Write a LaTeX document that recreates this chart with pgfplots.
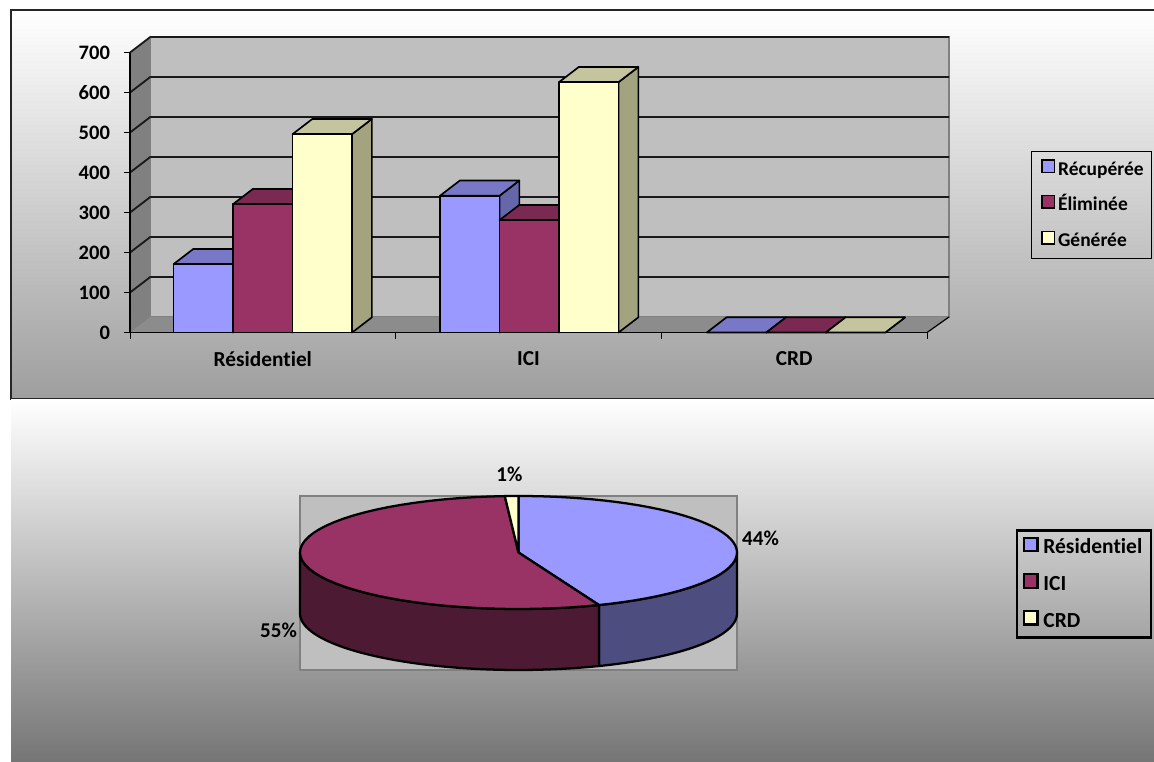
\documentclass[border=0pt]{standalone}
\usepackage{fontspec}
\setmainfont[Ligatures=NoCommon]{Carlito}
\usepackage{pgfplots}
\pgfplotsset{compat=1.18}
\definecolor{cBlue}{HTML}{9999FF}
\definecolor{cBlueT}{HTML}{7878C6}
\definecolor{cBlueS}{HTML}{6666AA}
\definecolor{cCrim}{HTML}{993366}
\definecolor{cCrimT}{HTML}{7A2952}
\definecolor{cCrimS}{HTML}{662244}
\definecolor{cYel}{HTML}{FFFFCC}
\definecolor{cYelT}{HTML}{C4C49E}
\definecolor{cYelS}{HTML}{A3A37F}
\definecolor{cPieB}{HTML}{4D4D7F}
\definecolor{cPieC}{HTML}{4C1A33}
% one 3-D column: #1 category, #2 shift in bars, #3 value, #4 front, #5 top, #6 side
\newcommand\colthree[6]{%
  \pgfmathsetmacro\xa{#1+(#2-0.5)*0.224}%
  \pgfmathsetmacro\xb{#1+(#2+0.5)*0.224}%
  \pgfmathsetmacro\xc{\xa+0.0745}%
  \pgfmathsetmacro\xd{\xb+0.0745}%
  \pgfmathsetmacro\vt{#3+38}%
  \edef\cmd{\noexpand\addplot[forget plot,fill=#6,draw=black,line width=1.25pt,line join=round] coordinates {(\xb,0) (\xd,38) (\xd,\vt) (\xb,#3)} --cycle;
  \noexpand\addplot[forget plot,fill=#5,draw=black,line width=1.25pt,line join=round] coordinates {(\xa,#3) (\xb,#3) (\xd,\vt) (\xc,\vt)} --cycle;
  \noexpand\addplot[forget plot,fill=#4,draw=black,line width=1.25pt,line join=round] coordinates {(\xa,0) (\xb,0) (\xb,#3) (\xa,#3)} --cycle;}%
  \cmd}
\newcommand\wallgrid[1]{%
  \pgfmathsetmacro\vt{#1+39}%
  \edef\cmd{\noexpand\addplot[forget plot,draw=black!90,line width=1.35pt] coordinates {(-0.5,#1) (-0.4233,\vt) (2.583,\vt)};}\cmd}
% pie slice between two shares (per cent, clockwise from the top)
\newcommand\piearc[2]{%
  \gdef\arcf{}\gdef\arcb{}%
  \pgfplotsforeachungrouped \i in {0,...,48}{%
    \pgfmathsetmacro\t{(#1+(#2-#1)*\i/48)}%
    \pgfmathsetmacro\px{218.5*sin(\t)}%
    \pgfmathsetmacro\py{56.5*cos(\t)}%
    \pgfmathsetmacro\pz{\py-61}%
    \xdef\arcf{\arcf (\px,\py)}%
    \xdef\arcb{(\px,\pz) \arcb}}}
\newcommand\pietop[3]{%
  \pgfmathsetmacro\aa{#1*3.6}\pgfmathsetmacro\bb{#2*3.6}%
  \piearc{\aa}{\bb}%
  \edef\cmd{\noexpand\addplot[forget plot,fill=#3,draw=black,line width=1.7pt,line join=round] coordinates {(0,0) \arcf} --cycle;}\cmd}
\newcommand\pieside[3]{%
  \piearc{#1}{#2}%
  \edef\cmd{\noexpand\addplot[forget plot,fill=#3,draw=black,line width=1.7pt,line join=round] coordinates {\arcf\space \arcb} --cycle;}\cmd}
\begin{document}
\begin{tikzpicture}
\begin{scope}[x=0.75pt,y=-0.75pt]
\shade[top color=white,bottom color=black!38] (11,10) rectangle (1154,399);
\draw[black!85,line width=1.3pt] (1154,10) -- (11,10) -- (11,399) -- (1154,399);
\shade[top color=white,bottom color=black!54] (11,400) rectangle (1154,762);
\end{scope}
\begin{axis}[
  at={(97.5pt,-249.4pt)},anchor=south west,
  scale only axis,width=597.75pt,height=210pt,
  xmin=-0.5,xmax=2.5,ymin=0,ymax=700,clip=false,
  axis x line=bottom,axis y line=left,axis line style={-,black,line width=0.9pt},
  axis on top,
  xtick={0,1,2},xticklabels={Résidentiel,ICI,CRD},
  minor xtick={-0.5,0.5,1.5,2.5},
  ytick={0,100,...,700},
  tick align=outside,major tick length=4.5pt,minor tick length=4.5pt,
  major x tick style={draw=none},minor x tick style={black,line width=0.7pt},
  y tick style={black,line width=0.7pt},
  /pgf/number format/assume math mode=true,
  tick label style={font=\fontsize{15.4}{18}\selectfont\bfseries,black},
  xticklabel style={font=\fontsize{16}{19}\selectfont\bfseries,yshift=-6.5pt},
  yticklabel style={xshift=-7pt},
  legend cell align=left,
  legend image code/.code={\path (-4pt,0pt); \draw[#1,line width=1.2pt] (0pt,-1.5pt) rectangle (9.5pt,8pt);},
  legend style={at={(1.1305,0.65)},anchor=north west,draw=black,line width=0.7pt,fill=none,
    font=\fontsize{14.6}{17}\selectfont\bfseries,row sep=11.75pt,inner xsep=3.5pt,inner ysep=6pt,
    nodes={inner ysep=0pt,text height=10pt,text depth=3pt}},
]
\addlegendimage{fill=cBlue,draw=black}\addlegendentry{Récupérée}
\addlegendimage{fill=cCrim,draw=black}\addlegendentry{Éliminée}
\addlegendimage{fill=cYel,draw=black}\addlegendentry{Générée}
% walls and floor
\addplot[forget plot,fill=black!50,draw=black!50] coordinates {(-0.5,0) (-0.4233,39) (-0.4233,739) (-0.5,700)} --cycle;
\addplot[forget plot,fill=black!25,draw=black!50,line width=1.3pt] coordinates {(-0.4233,39) (2.583,39) (2.583,739) (-0.4233,739)} --cycle;
\addplot[forget plot,fill=black!45,draw=none] coordinates {(-0.5,0) (2.5,0) (2.583,39) (-0.4233,39)} --cycle;
\addplot[forget plot,draw=black,line width=0.9pt] coordinates {(2.5,0) (2.583,39)};
\wallgrid{100}\wallgrid{200}\wallgrid{300}\wallgrid{400}\wallgrid{500}\wallgrid{600}\wallgrid{700}
% Résidentiel
\colthree{0}{-1}{171}{cBlue}{cBlueT}{cBlueS}
\colthree{0}{0}{321}{cCrim}{cCrimT}{cCrimS}
\colthree{0}{1}{496}{cYel}{cYelT}{cYelS}
% ICI
\colthree{1.003}{-1}{342}{cBlue}{cBlueT}{cBlueS}
\colthree{1.003}{0}{281}{cCrim}{cCrimT}{cCrimS}
\colthree{1.003}{1}{626}{cYel}{cYelT}{cYelS}
% CRD
\colthree{2.007}{-1}{0}{cBlue}{cBlueT}{cBlueS}
\colthree{2.007}{0}{0}{cCrim}{cCrimT}{cCrimS}
\colthree{2.007}{1}{0}{cYel}{cYelT}{cYelS}
\end{axis}
\begin{axis}[
  at={(225pt,-502.5pt)},anchor=south west,
  scale only axis,width=327.75pt,height=130.5pt,
  xmin=-218.5,xmax=218.5,ymin=-117.5,ymax=56.5,clip=false,
  hide axis,
  legend cell align=left,
  legend image code/.code={\path (11.5pt,0pt); \draw[#1,line width=1.6pt] (0pt,-1.5pt) rectangle (10pt,8.5pt);},
  legend style={at={(1.638,0.81)},anchor=north west,draw=black,line width=1.9pt,fill=none,
    font=\fontsize{16.1}{19}\selectfont\bfseries,row sep=11.75pt,inner xsep=4.5pt,inner ysep=4.7pt,
    nodes={inner ysep=0pt,text height=10pt,text depth=3pt}},
]
\addlegendimage{fill=cBlue,draw=black}\addlegendentry{Résidentiel}
\addlegendimage{fill=cCrim,draw=black}\addlegendentry{ICI}
\addlegendimage{fill=cYel,draw=black}\addlegendentry{CRD}
\addplot[forget plot,fill=black!25,draw=black!50,line width=1.8pt] coordinates {(-218.5,-117.5) (218.5,-117.5) (218.5,56.5) (-218.5,56.5)} --cycle;
\pieside{90}{158.4}{cPieB}
\pieside{158.4}{270}{cPieC}
\pietop{0}{44}{cBlue}
\pietop{44}{99}{cCrim}
\pietop{99}{100}{cYel}
\node[font=\fontsize{15.8}{18}\selectfont\bfseries] at (axis cs:242,14) {44\%};
\node[font=\fontsize{15.8}{18}\selectfont\bfseries] at (axis cs:-240,-78) {55\%};
\node[font=\fontsize{15.8}{18}\selectfont\bfseries] at (axis cs:-9,78) {1\%};
\end{axis}
\pgfresetboundingbox
\path[use as bounding box] (0pt,0pt) rectangle (865.5pt,-571.5pt);
\end{tikzpicture}
\end{document}
